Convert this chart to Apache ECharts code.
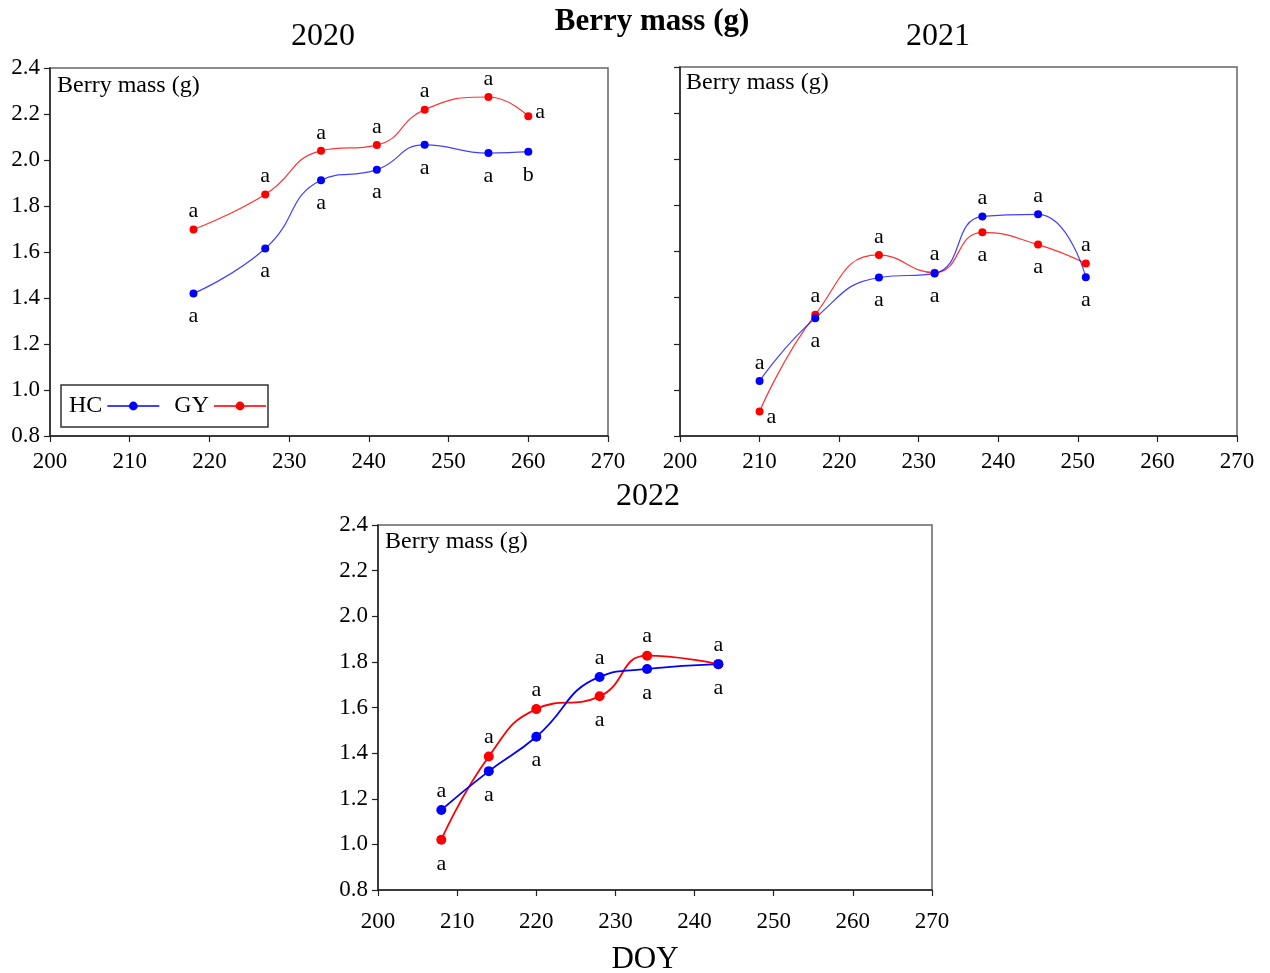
<!DOCTYPE html>
<html>
<head>
<meta charset="utf-8">
<script src="https://cdn.jsdelivr.net/npm/echarts@6/dist/echarts.min.js"></script>
<style>
html,body{margin:0;padding:0;background:#fff;}
#chart{width:1270px;height:973px;}
</style>
</head>
<body>
<div id="chart"></div>
<script>
// ---- data ----
const doy2020 = [218, 227, 234, 241, 247, 255, 260];
const hc2020 = [1.42, 1.615, 1.912, 1.958, 2.066, 2.03, 2.036];
const gy2020 = [1.698, 1.85, 2.04, 2.065, 2.219, 2.274, 2.19];
const hcSig2020 = ['a', 'a', 'a', 'a', 'a', 'a', 'b'];
const gySig2020 = ['a', 'a', 'a', 'a', 'a', 'a', 'a'];

const doy2021 = [210, 217, 225, 232, 238, 245, 251];
const hc2021 = [1.038, 1.311, 1.487, 1.505, 1.752, 1.761, 1.488];
const gy2021 = [0.906, 1.326, 1.585, 1.508, 1.683, 1.63, 1.548];
const hcSig2021 = ['a', 'a', 'a', 'a', 'a', 'a', 'a'];
const gySig2021 = ['a', 'a', 'a', 'a', 'a', 'a', 'a'];

const doy2022 = [208, 214, 220, 228, 234, 243];
const hc2022 = [1.151, 1.321, 1.472, 1.734, 1.769, 1.79];
const gy2022 = [1.02, 1.385, 1.593, 1.649, 1.827, 1.79];
const hcSig2022 = ['a', 'a', 'a', 'a', 'a', 'a'];
const gySig2022 = ['a', 'a', 'a', 'a', 'a', 'a'];

const seriesNames = ['HC', 'GY'];
const panelTitles = ['2020', '2021', '2022'];
const mainTitle = 'Berry mass (g)';
const innerLabel = 'Berry mass (g)';
const xAxisName = 'DOY';

// ---- layout / style ----
const FONT = "'Liberation Serif', 'Times New Roman', serif";
const BLUE = '#0000ff', RED = '#ff0000';
const grids = [
  {left: 50, top: 68, width: 558, height: 368},
  {left: 680, top: 67, width: 557, height: 369},
  {left: 378, top: 525, width: 554, height: 365}
];
const xLabelMargin = [14, 14, 20];
// special label placements for a few points
const labelOverrides = {
  '0-GY-6': {position: 'right', distance: 3, offset: [0, -4]},
  '1-GY-0': {position: 'right', distance: 3, offset: [0, 6]}
};

function buildData(panel, name, xs, ys, other, sig) {
  return xs.map((x, i) => {
    const mine = ys[i], theirs = other[i];
    let top;
    if (Math.abs(mine - theirs) < 0.005) top = (name === 'GY');
    else top = mine > theirs;
    const lab = Object.assign({
      show: true,
      formatter: sig[i],
      position: top ? 'top' : 'bottom',
      distance: top ? 3 : 8
    }, labelOverrides[panel + '-' + name + '-' + i] || {});
    return {value: [x, mine], label: lab};
  });
}

const panels = [
  {xs: doy2020, hc: hc2020, gy: gy2020, hs: hcSig2020, gs: gySig2020, lw: 1.2, sym: 8},
  {xs: doy2021, hc: hc2021, gy: gy2021, hs: hcSig2021, gs: gySig2021, lw: 1.2, sym: 8},
  {xs: doy2022, hc: hc2022, gy: gy2022, hs: hcSig2022, gs: gySig2022, lw: 1.8, sym: 10}
];

const xAxes = [], yAxes = [], series = [], titles = [];
panels.forEach((p, k) => {
  xAxes.push({
    type: 'value', gridIndex: k, min: 200, max: 270, interval: 10,
    axisLine: {show: true, lineStyle: {color: '#222', width: 1.5}},
    axisTick: {show: true, inside: false, length: 6, lineStyle: {color: '#222', width: 1.2}},
    axisLabel: {fontFamily: FONT, fontSize: 23, color: '#000', margin: xLabelMargin[k]},
    splitLine: {show: false}
  });
  yAxes.push({
    type: 'value', gridIndex: k, min: 0.8, max: 2.4, interval: 0.2,
    axisLine: {show: true, lineStyle: {color: '#222', width: 1.5}},
    axisTick: {show: true, inside: false, length: 6, lineStyle: {color: '#222', width: 1.2}},
    axisLabel: {show: k !== 1, fontFamily: FONT, fontSize: 23, color: '#000', margin: 10,
      formatter: v => v.toFixed(1)},
    splitLine: {show: false}
  });
  const labelStyle = {fontFamily: FONT, fontSize: 22, color: '#000'};
  series.push({
    name: 'GY', type: 'line', xAxisIndex: k, yAxisIndex: k, smooth: 0.5,
    symbol: 'circle', symbolSize: p.sym,
    lineStyle: {color: RED, width: p.lw, opacity: k === 2 ? 1 : 0.8},
    itemStyle: {color: RED},
    label: labelStyle,
    data: buildData(k, 'GY', p.xs, p.gy, p.hc, p.gs)
  });
  series.push({
    name: 'HC', type: 'line', xAxisIndex: k, yAxisIndex: k, smooth: 0.5,
    symbol: 'circle', symbolSize: p.sym,
    lineStyle: {color: BLUE, width: p.lw, opacity: k === 2 ? 1 : 0.75},
    itemStyle: {color: BLUE},
    label: labelStyle,
    data: buildData(k, 'HC', p.xs, p.hc, p.gy, p.hs)
  });
});

titles.push({text: mainTitle, left: 652, top: 6, textAlign: 'center',
  textStyle: {fontFamily: FONT, fontSize: 31, fontWeight: 'bold', color: '#000'}});
titles.push({text: panelTitles[0], left: 323, top: 21, textAlign: 'center',
  textStyle: {fontFamily: FONT, fontSize: 32, fontWeight: 'normal', color: '#000'}});
titles.push({text: panelTitles[1], left: 938, top: 21, textAlign: 'center',
  textStyle: {fontFamily: FONT, fontSize: 32, fontWeight: 'normal', color: '#000'}});
titles.push({text: panelTitles[2], left: 648, top: 481, textAlign: 'center',
  textStyle: {fontFamily: FONT, fontSize: 32, fontWeight: 'normal', color: '#000'}});
titles.push({text: xAxisName, left: 645, top: 944, textAlign: 'center',
  textStyle: {fontFamily: FONT, fontSize: 31, fontWeight: 'normal', color: '#000'}});
[[57, 74], [686, 71], [385, 530]].forEach(([l, t]) => {
  titles.push({text: innerLabel, left: l, top: t,
    textStyle: {fontFamily: FONT, fontSize: 24, fontWeight: 'normal', color: '#000'}});
});

const option = {
  backgroundColor: '#fff',
  animation: false,
  title: titles.map(t => Object.assign({padding: 0}, t)),
  grid: grids.map(g => Object.assign({show: true, borderColor: '#666', borderWidth: 1.5,
    backgroundColor: 'transparent', containLabel: false}, g)),
  xAxis: xAxes,
  yAxis: yAxes,
  legend: {
    data: seriesNames,
    left: 61, top: 385,
    align: 'right',
    itemWidth: 52, itemHeight: 11, itemGap: 14,
    padding: [9, 1, 9, 8],
    borderColor: '#333', borderWidth: 1.5, backgroundColor: '#fff',
    textStyle: {fontFamily: FONT, fontSize: 24, color: '#000', padding: [0, 0, 0, 0]}
  },
  series: series
};

const chart = echarts.init(document.getElementById('chart'), null, {renderer: 'canvas'});
chart.setOption(option);
</script>
</body>
</html>
